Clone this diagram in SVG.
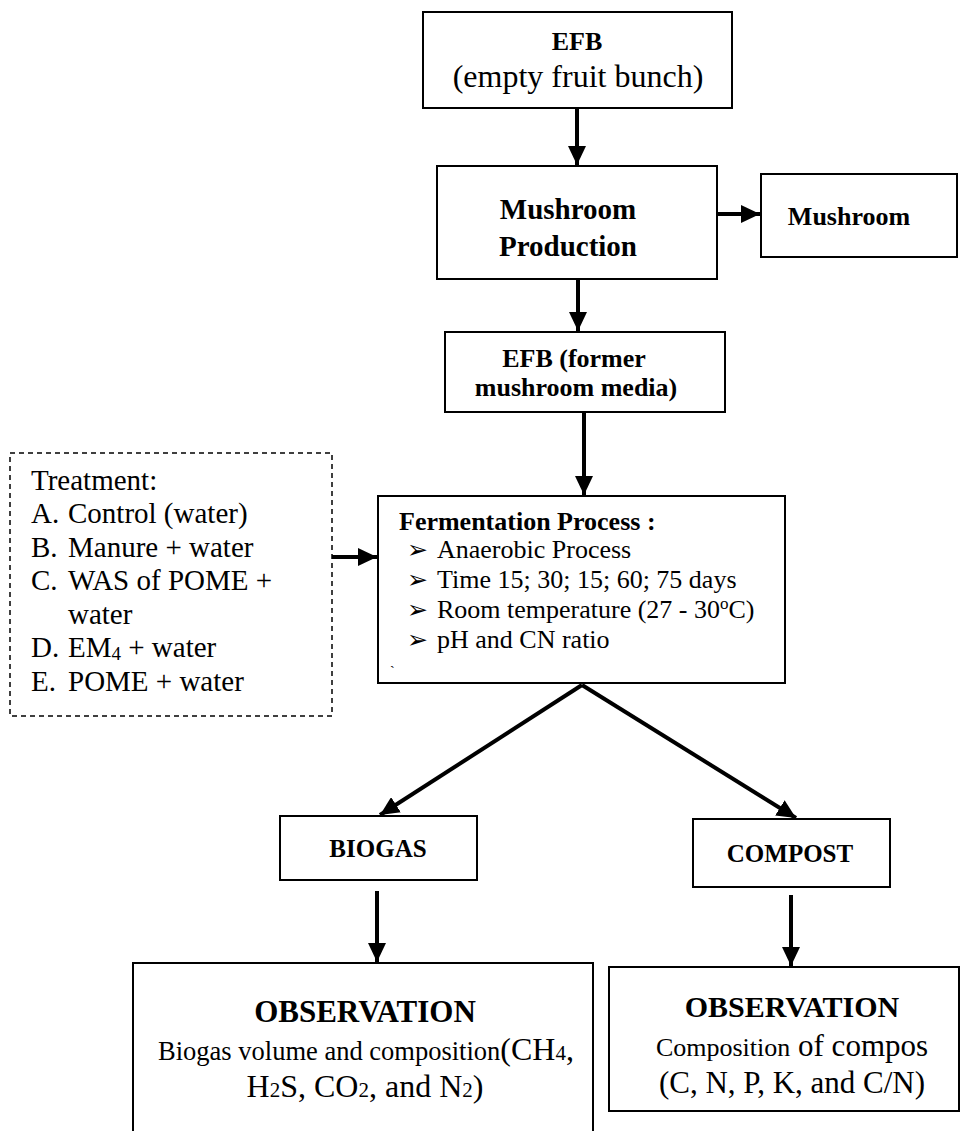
<svg xmlns="http://www.w3.org/2000/svg" width="962" height="1131" viewBox="0 0 962 1131">
<style>
.box{fill:#fff;stroke:#000;stroke-width:2}
.dash{fill:#fff;stroke:#000;stroke-width:1.5;stroke-dasharray:5 4}
.t{font-family:"Liberation Serif","Times New Roman",serif;fill:#000}
.b{font-weight:bold}
.c{text-anchor:middle}
.con{stroke:#000;stroke-width:4;fill:none}
.bul{font-family:"DejaVu Sans",sans-serif;font-size:25px;fill:#000}
</style>
<defs>
<marker id="ah" markerUnits="userSpaceOnUse" markerWidth="20" markerHeight="18" refX="19" refY="9" orient="auto">
<path d="M0,0 L19,9 L0,18 Z" fill="#000"/>
</marker>
</defs>
<rect width="962" height="1131" fill="#fff"/>

<g id="connectors">
<line class="con" x1="577" y1="108" x2="577" y2="165" marker-end="url(#ah)"/>
<line class="con" x1="717" y1="214" x2="760" y2="214" marker-end="url(#ah)"/>
<line class="con" x1="578" y1="279" x2="578" y2="331" marker-end="url(#ah)"/>
<line class="con" x1="584" y1="412" x2="584" y2="495" marker-end="url(#ah)"/>
<line class="con" x1="332" y1="557" x2="377" y2="557" marker-end="url(#ah)"/>
<line class="con" x1="582" y1="685" x2="380" y2="815" marker-end="url(#ah)"/>
<line class="con" x1="582" y1="685" x2="796" y2="818" marker-end="url(#ah)"/>
<line class="con" x1="377" y1="891" x2="377" y2="962" marker-end="url(#ah)"/>
<line class="con" x1="791" y1="895" x2="791" y2="966" marker-end="url(#ah)"/>
</g>

<g id="efb">
<rect class="box" x="423" y="12" width="309" height="96"/>
<text class="t b c" x="577" y="50" font-size="26">EFB</text>
<text class="t c" x="578" y="87" font-size="32">(empty fruit bunch)</text>
</g>

<g id="mushroom-production">
<rect class="box" x="437" y="166" width="280" height="113"/>
<text class="t b c" x="568" y="219" font-size="29">Mushroom</text>
<text class="t b c" x="568" y="256" font-size="29">Production</text>
</g>

<g id="mushroom">
<rect class="box" x="761" y="174" width="196" height="83"/>
<text class="t b c" x="849" y="225" font-size="26">Mushroom</text>
</g>

<g id="efb-former">
<rect class="box" x="445" y="332" width="280" height="80"/>
<text class="t b c" x="574" y="367" font-size="26">EFB (former</text>
<text class="t b c" x="576" y="396" font-size="26">mushroom media)</text>
</g>

<g id="treatment">
<rect class="dash" x="10" y="453" width="322" height="263"/>
<text class="t" x="31" y="490" font-size="29">Treatment:</text>
<text class="t" x="31" y="523" font-size="29">A.</text><text class="t" x="68" y="523" font-size="29">Control (water)</text>
<text class="t" x="31" y="557" font-size="29">B.</text><text class="t" x="68" y="557" font-size="29">Manure + water</text>
<text class="t" x="31" y="590" font-size="29">C.</text><text class="t" x="68" y="590" font-size="29">WAS of POME +</text>
<text class="t" x="68" y="624" font-size="29">water</text>
<text class="t" x="31" y="657" font-size="29">D.</text><text class="t" x="68" y="657" font-size="29">EM<tspan font-size="19" dy="3">4</tspan><tspan dy="-3"> + water</tspan></text>
<text class="t" x="31" y="691" font-size="29">E.</text><text class="t" x="68" y="691" font-size="29">POME + water</text>
</g>

<g id="fermentation">
<rect class="box" x="378" y="496" width="407" height="187"/>
<text class="t b" x="399" y="530" font-size="26">Fermentation Process :</text>
<text class="bul" x="407" y="558">➢</text><text class="t" x="437" y="558" font-size="26">Anaerobic Process</text>
<text class="bul" x="407" y="588">➢</text><text class="t" x="437" y="588" font-size="26">Time 15; 30; 15; 60; 75 days</text>
<text class="bul" x="407" y="618">➢</text><text class="t" x="437" y="618" font-size="26">Room temperature (27 - 30<tspan font-size="17" dy="-9">o</tspan><tspan dy="9">C)</tspan></text>
<text class="bul" x="407" y="648">➢</text><text class="t" x="437" y="648" font-size="26">pH and CN ratio</text>
<text class="t" x="390" y="676" font-size="14">`</text>
</g>

<g id="biogas">
<rect class="box" x="280" y="816" width="197" height="64"/>
<text class="t b c" x="378" y="857" font-size="25">BIOGAS</text>
</g>

<g id="compost">
<rect class="box" x="693" y="819" width="197" height="68"/>
<text class="t b c" x="790" y="862" font-size="25">COMPOST</text>
</g>

<g id="observation-biogas">
<rect class="box" x="133" y="963" width="460" height="190"/>
<text class="t b c" x="365" y="1022" font-size="31">OBSERVATION</text>
<text class="t c" x="366" y="1060" font-size="26.5">Biogas volume and composition<tspan font-size="32">(CH</tspan><tspan font-size="21">4</tspan><tspan font-size="32">,</tspan></text>
<text class="t c" x="365" y="1097" font-size="32">H<tspan font-size="21">2</tspan>S, CO<tspan font-size="21">2</tspan>, and N<tspan font-size="21">2</tspan>)</text>
</g>

<g id="observation-compost">
<rect class="box" x="609" y="967" width="350" height="144"/>
<text class="t b c" x="792" y="1017" font-size="30">OBSERVATION</text>
<text class="t c" x="792" y="1056" font-size="26">Composition<tspan font-size="31"> of compos</tspan></text>
<text class="t c" x="792" y="1093" font-size="31">(C, N, P, K, and C/N)</text>
</g>
</svg>
